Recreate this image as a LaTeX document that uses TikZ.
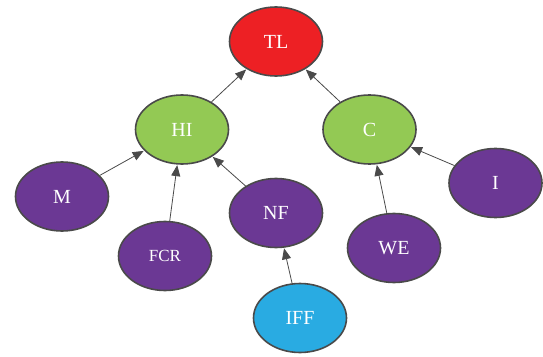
\documentclass[tikz,border=0pt]{standalone}
\usepackage{fontspec}
\setmainfont{Liberation Serif}
\newfontfamily\myserif{Liberation Serif}
\usetikzlibrary{shapes.geometric,arrows.meta}
\definecolor{cred}{HTML}{ED2024}
\definecolor{cgreen}{HTML}{93C954}
\definecolor{cpurple}{HTML}{6B3894}
\definecolor{cblue}{HTML}{29ABE2}
\definecolor{cedge}{HTML}{4A4A4A}
\tikzset{
  ell/.style={ellipse, draw=cedge, line width=1.6pt, minimum width=93pt, minimum height=69pt, inner sep=0pt, text=white, font=\myserif\fontsize{20}{22}\selectfont},
  redn/.style={ell, fill=cred},
  greenn/.style={ell, fill=cgreen},
  purplen/.style={ell, fill=cpurple},
  bluen/.style={ell, fill=cblue},
  conn/.style={draw=cedge, line width=0.8pt, -{Triangle[length=11pt,width=9pt]}, shorten >=0.5pt}
}
\begin{document}
\begin{tikzpicture}[x=1pt,y=-1pt]
\useasboundingbox (0,0) rectangle (543,356);
\node[redn] (TL) at (276,41.5) {TL};
\node[greenn] (HI) at (182,129.5) {HI};
\node[greenn] (C) at (369.5,129.5) {C};
\node[purplen] (M) at (62,196.5) {M};
\node[purplen, font=\myserif\fontsize{17}{19}\selectfont] (FCR) at (165,256) {FCR};
\node[purplen] (NF) at (276,213) {NF};
\node[purplen] (WE) at (394,248) {WE};
\node[purplen] (I) at (495.5,183) {I};
\node[bluen] (IFF) at (300,318) {IFF};
\draw[conn] (HI) -- (TL);
\draw[conn] (C) -- (TL);
\draw[conn] (M) -- (HI);
\draw[conn] (FCR) -- (HI);
\draw[conn] (NF) -- (HI);
\draw[conn] (I) -- (C);
\draw[conn] (WE) -- (C);
\draw[conn] (IFF) -- (NF);
\end{tikzpicture}
\end{document}
